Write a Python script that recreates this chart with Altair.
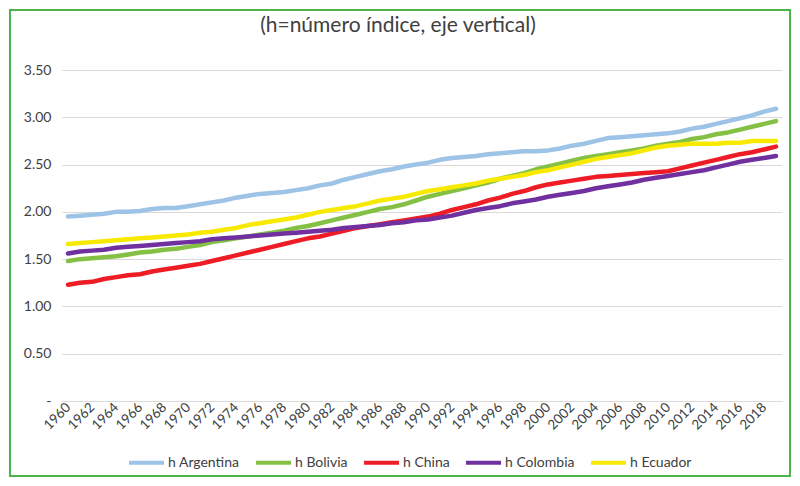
import altair as alt
import pandas as pd

years = list(range(1960, 2020))

argentina = [1.95, 1.96, 1.97, 1.98, 2.00, 2.00, 2.01, 2.03, 2.04, 2.04,
             2.06, 2.08, 2.10, 2.12, 2.15, 2.17, 2.19, 2.20, 2.21, 2.23,
             2.25, 2.28, 2.30, 2.34, 2.37, 2.40, 2.43, 2.45, 2.48, 2.50,
             2.52, 2.55, 2.57, 2.58, 2.59, 2.61, 2.62, 2.63, 2.64, 2.64,
             2.65, 2.67, 2.70, 2.72, 2.75, 2.78, 2.79, 2.80, 2.81, 2.82,
             2.83, 2.85, 2.88, 2.90, 2.93, 2.96, 2.99, 3.02, 3.06, 3.09]
bolivia = [1.48, 1.50, 1.51, 1.52, 1.53, 1.55, 1.57, 1.58, 1.60, 1.61,
           1.63, 1.65, 1.68, 1.70, 1.72, 1.74, 1.76, 1.78, 1.80, 1.83,
           1.85, 1.88, 1.91, 1.94, 1.97, 2.00, 2.03, 2.05, 2.08, 2.12,
           2.16, 2.19, 2.22, 2.25, 2.28, 2.31, 2.35, 2.38, 2.41, 2.45,
           2.48, 2.51, 2.54, 2.57, 2.59, 2.61, 2.63, 2.65, 2.67, 2.70,
           2.72, 2.74, 2.77, 2.79, 2.82, 2.84, 2.87, 2.90, 2.93, 2.96]
china = [1.23, 1.25, 1.26, 1.29, 1.31, 1.33, 1.34, 1.37, 1.39, 1.41,
         1.43, 1.45, 1.48, 1.51, 1.54, 1.57, 1.60, 1.63, 1.66, 1.69,
         1.72, 1.74, 1.77, 1.80, 1.83, 1.85, 1.87, 1.89, 1.91, 1.93,
         1.95, 1.98, 2.02, 2.05, 2.08, 2.12, 2.15, 2.19, 2.22, 2.26,
         2.29, 2.31, 2.33, 2.35, 2.37, 2.38, 2.39, 2.40, 2.41, 2.42,
         2.43, 2.46, 2.49, 2.52, 2.55, 2.58, 2.61, 2.63, 2.66, 2.69]
colombia = [1.56, 1.58, 1.59, 1.60, 1.62, 1.63, 1.64, 1.65, 1.66, 1.67,
            1.68, 1.69, 1.71, 1.72, 1.73, 1.74, 1.75, 1.76, 1.77, 1.78,
            1.79, 1.80, 1.81, 1.83, 1.84, 1.85, 1.86, 1.88, 1.89, 1.91,
            1.92, 1.94, 1.96, 1.99, 2.02, 2.04, 2.06, 2.09, 2.11, 2.13,
            2.16, 2.18, 2.20, 2.22, 2.25, 2.27, 2.29, 2.31, 2.34, 2.36,
            2.38, 2.40, 2.42, 2.44, 2.47, 2.50, 2.53, 2.55, 2.57, 2.59]
ecuador = [1.66, 1.67, 1.68, 1.69, 1.70, 1.71, 1.72, 1.73, 1.74, 1.75,
           1.76, 1.78, 1.79, 1.81, 1.83, 1.86, 1.88, 1.90, 1.92, 1.94,
           1.97, 2.00, 2.02, 2.04, 2.06, 2.09, 2.12, 2.14, 2.16, 2.19,
           2.22, 2.24, 2.26, 2.28, 2.30, 2.33, 2.35, 2.37, 2.39, 2.42,
           2.44, 2.47, 2.50, 2.53, 2.56, 2.58, 2.60, 2.62, 2.65, 2.68,
           2.70, 2.71, 2.72, 2.72, 2.72, 2.73, 2.73, 2.75, 2.75, 2.75]

series_names = ["h Argentina", "h Bolivia", "h China", "h Colombia", "h Ecuador"]
series_values = [argentina, bolivia, china, colombia, ecuador]
series_colors = ["#9DC3E6", "#84C044", "#EE1C25", "#7030A0", "#F7EA00"]
even_years = list(range(1960, 2019, 2))
y_ticks = [0, 0.5, 1.0, 1.5, 2.0, 2.5, 3.0, 3.5]
title_text = "(h=número índice, eje vertical)"

rows = []
for name, vals in zip(series_names, series_values):
    for yr, v in zip(years, vals):
        rows.append({"year": yr, "serie": name, "h": v})
df = pd.DataFrame(rows)

FONT = "Lato"
W, H = 720, 331

lines = alt.Chart(df).mark_line(strokeWidth=4.5, strokeCap="round", strokeJoin="round").encode(
    x=alt.X("year:Q",
            scale=alt.Scale(domain=[1959.5, 2019.5], nice=False, zero=False),
            axis=alt.Axis(values=even_years, format="d", labelAngle=-45, title=None,
                          grid=False, ticks=False, domain=True, domainColor="#d9d9d9",
                          domainWidth=1, labelFont=FONT, labelFontSize=13.5,
                          labelColor="#404040", labelPadding=4, labelAlign="right",
                          labelBaseline="middle", labelOverlap=False)),
    y=alt.Y("h:Q",
            scale=alt.Scale(domain=[0, 3.5], nice=False),
            axis=alt.Axis(values=y_ticks, title=None, domain=False, ticks=False,
                          gridColor="#d9d9d9", gridWidth=1,
                          labelExpr="datum.value == 0 ? '-' : format(datum.value, '.2f')",
                          labelFont=FONT, labelFontSize=14, labelColor="#404040",
                          labelPadding=11)),
    color=alt.Color("serie:N",
                    scale=alt.Scale(domain=series_names, range=series_colors),
                    legend=alt.Legend(title=None, orient="none", direction="horizontal",
                                      legendX=65, legendY=373,
                                      symbolType="stroke", symbolSize=1225,
                                      symbolStrokeWidth=4, labelFont=FONT,
                                      labelFontSize=14, labelColor="#404040",
                                      columnPadding=8, labelOffset=2)),
    order=alt.Order("serie:N"),
)

title = alt.Chart(pd.DataFrame({"t": [title_text]})).mark_text(
    font=FONT, fontSize=21, color="#404040", align="center", baseline="middle", clip=False
).encode(text="t:N", x=alt.value(336), y=alt.value(-44))

border = alt.Chart(pd.DataFrame({"b": [0]})).mark_rect(
    fill=None, stroke="#4DB34D", strokeWidth=2, clip=False
).encode(
    x=alt.value(-52), x2=alt.value(728), y=alt.value(-60), y2=alt.value(406)
)

chart = alt.layer(lines, title, border).properties(
    width=W, height=H,
    autosize=alt.AutoSizeParams(type="none"),
    padding={"left": 54, "top": 62, "right": 10, "bottom": 77},
).configure_view(stroke=None)

chart.save("out.html", embed_options={"renderer": "svg", "actions": False})
